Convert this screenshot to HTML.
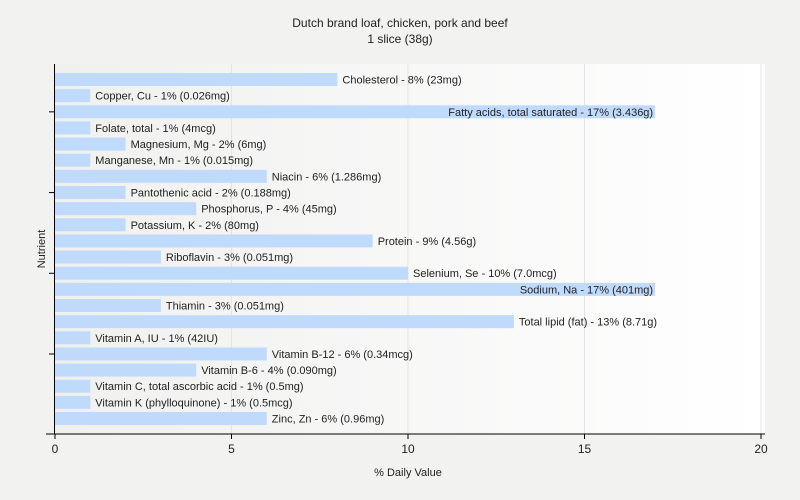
<!DOCTYPE html>
<html><head><meta charset="utf-8"><style>
body{margin:0;background:#f2f2f1;font-family:"Liberation Sans",sans-serif}
svg{display:block}
text{font-family:"Liberation Sans",sans-serif}
</style></head><body>
<svg id="chart" width="800" height="500">
<defs><linearGradient id="bg" x1="0" x2="1" y1="0" y2="0"><stop offset="0" stop-color="#f0f0ef"/><stop offset="1" stop-color="#ffffff"/></linearGradient></defs>
<rect x="0" y="0" width="800" height="500" fill="#f2f2f1"/>
<rect x="55" y="64" width="710" height="370" fill="url(#bg)"/>
<text x="400" y="27" text-anchor="middle" font-size="12" fill="#222">Dutch brand loaf, chicken, pork and beef</text>
<text x="400" y="43" text-anchor="middle" font-size="12" fill="#222">1 slice (38g)</text>
<text x="408" y="476" text-anchor="middle" font-size="11" fill="#222">% Daily Value</text>
<text x="45" y="249" text-anchor="middle" font-size="11" fill="#222" transform="rotate(-90 45 249)">Nutrient</text>
<g id="grid"></g><g id="bars"></g><g id="axes"></g>
</svg>
<script>
const categories=["Cholesterol","Copper, Cu","Fatty acids, total saturated","Folate, total","Magnesium, Mg","Manganese, Mn","Niacin","Pantothenic acid","Phosphorus, P","Potassium, K","Protein","Riboflavin","Selenium, Se","Sodium, Na","Thiamin","Total lipid (fat)","Vitamin A, IU","Vitamin B-12","Vitamin B-6","Vitamin C, total ascorbic acid","Vitamin K (phylloquinone)","Zinc, Zn"];
const values=[8,1,17,1,2,1,6,2,4,2,9,3,10,17,3,13,1,6,4,1,1,6];
const amounts=["23mg","0.026mg","3.436g","4mcg","6mg","0.015mg","1.286mg","0.188mg","45mg","80mg","4.56g","0.051mg","7.0mcg","401mg","0.051mg","8.71g","42IU","0.34mcg","0.090mg","0.5mg","0.5mcg","0.96mg"];
const xTicks=[0,5,10,15,20];
const NS="http://www.w3.org/2000/svg";
const x=v=>55+v*35.3;
const y=i=>79.5+i*(418.5-79.5)/(categories.length-1);
function mk(t,a,p){const e=document.createElementNS(NS,t);for(const k in a)e.setAttribute(k,a[k]);p.appendChild(e);return e;}
const grid=document.getElementById('grid'),bars=document.getElementById('bars'),axes=document.getElementById('axes');
xTicks.forEach(t=>{
 if(t>0){const g=mk('line',{x1:x(t),x2:x(t),y1:64,y2:434,stroke:'#e4e4e4'},grid);
 
 }
 const tk=mk('line',{x1:x(t),x2:x(t),y1:434,y2:439,stroke:'#000'},axes);
 
 
 const tl=mk('text',{x:x(t),y:453,'text-anchor':'middle','font-size':12,fill:'#222'},axes);
 tl.textContent=t;
 
 
});
categories.forEach((c,i)=>{
 const cy=y(i),w=x(values[i])-x(0);
 const b=mk('rect',{x:55,y:cy-6.5,width:w,height:13,fill:'#c0dafc'},bars);
 
 
 const lab=c+' - '+values[i]+'% ('+amounts[i]+')';
 const inside=x(values[i])+5+lab.length*6>790;
 const t=mk('text',{x:inside?x(values[i])-2:x(values[i])+5,y:cy+4,'font-size':11,fill:'#222','text-anchor':inside?'end':'start'},bars);
 t.textContent=lab;
 
 
});
[2,7,12,17].forEach(k=>{
 const yy=(y(k)+y(k+1))/2-8;
 const l=mk('line',{x1:49,x2:55,y1:yy,y2:yy,stroke:'#000'},axes);
 
 
});
const ya=mk('line',{x1:54.5,x2:54.5,y1:64,y2:434,stroke:'#000'},axes);


const xa=mk('line',{x1:46,x2:765,y1:434,y2:434,stroke:'#000'},axes);


</script>
</body></html>
